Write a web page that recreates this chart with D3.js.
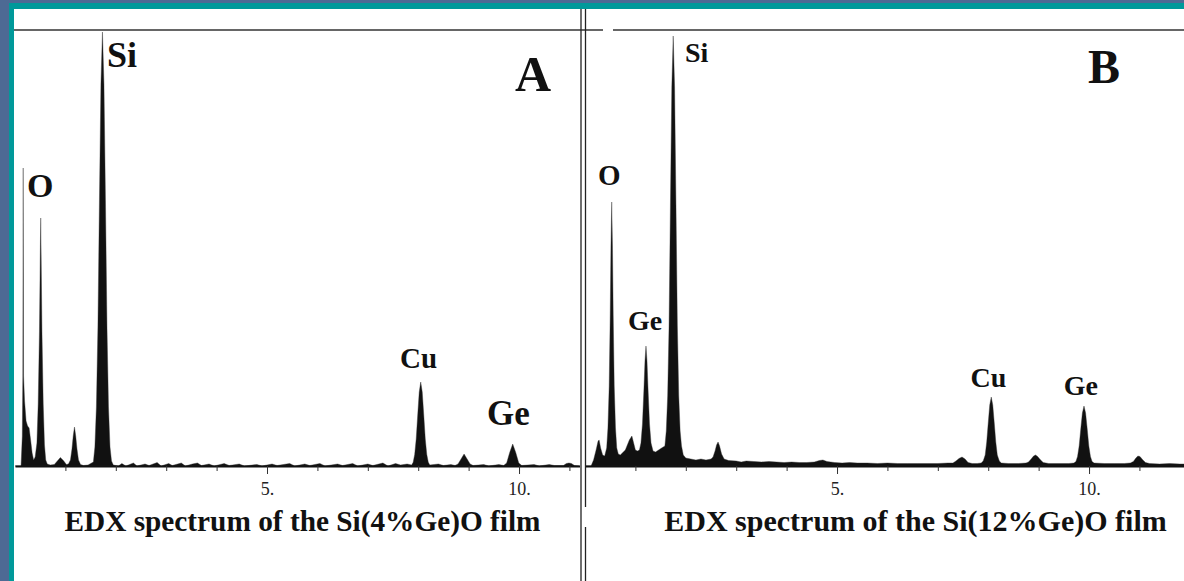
<!DOCTYPE html>
<html>
<head>
<meta charset="utf-8">
<script src="https://cdn.jsdelivr.net/npm/d3@7"></script>
<style>
  body { margin: 0; background: #4d6a94; }
  svg { display: block; }
</style>
</head>
<body>
<div id="chart"></div>
<script>
var width = 1184;
var height = 581;

// energy ticks (keV) and the ones carrying a label
var energyTicks = [1, 2, 3, 4, 5, 6, 7, 8, 9, 10, 11];
var labelTicks = [5, 10];

// spectrum A : Si(4%Ge)O, [energy keV, counts]
var spectrumA = [
  [0.00, 0], [0.12, 0], [0.145, 300], [0.155, 900], [0.163, 2980], [0.170, 900],
  [0.19, 650], [0.22, 450], [0.25, 400], [0.28, 380], [0.31, 260], [0.34, 130], [0.37, 60],
  [0.40, 90], [0.435, 230], [0.46, 620], [0.485, 1340], [0.50, 2050], [0.51, 2480],
  [0.52, 2050], [0.535, 1340], [0.56, 620], [0.585, 210], [0.61, 60], [0.64, 20],
  [0.70, 10], [0.78, 15], [0.84, 50], [0.90, 85], [0.96, 55], [1.02, 15],
  [1.06, 20], [1.10, 60], [1.13, 170], [1.155, 300], [1.18, 390], [1.205, 300],
  [1.23, 170], [1.26, 60], [1.30, 15], [1.36, 5], [1.45, 10],
  [1.555, 40], [1.585, 190], [1.615, 590], [1.645, 1390], [1.675, 2650], [1.705, 3820],
  [1.735, 4340], [1.765, 3820], [1.795, 2650], [1.825, 1390], [1.855, 590], [1.885, 190],
  [1.915, 50], [1.95, 10],
  [2.05, 0], [2.12, 25], [2.20, 0], [2.35, 30], [2.42, 0], [2.58, 20], [2.66, 5],
  [2.82, 35], [2.90, 0], [3.05, 25], [3.12, 5], [3.30, 30], [3.38, 0], [3.52, 20],
  [3.62, 30], [3.70, 5], [3.85, 20], [3.95, 0], [4.15, 25], [4.25, 5], [4.45, 20],
  [4.55, 0], [4.80, 15], [4.90, 0], [5.10, 20], [5.20, 5], [5.45, 25], [5.55, 0],
  [5.75, 20], [5.85, 5], [6.05, 25], [6.15, 0], [6.40, 20], [6.50, 5], [6.70, 25],
  [6.80, 0], [7.00, 20], [7.10, 5], [7.30, 30], [7.40, 0], [7.55, 25], [7.65, 10], [7.78, 20],
  [7.87, 10], [7.90, 37], [7.93, 115], [7.96, 270], [7.99, 510], [8.02, 740], [8.05, 840],
  [8.08, 740], [8.11, 510], [8.14, 270], [8.17, 115], [8.20, 37], [8.23, 10],
  [8.40, 20], [8.50, 5], [8.65, 15],
  [8.73, 5], [8.79, 20], [8.85, 70], [8.91, 120], [8.97, 70], [9.03, 20], [9.09, 5],
  [9.30, 15], [9.40, 0], [9.60, 15],
  [9.695, 5], [9.755, 30], [9.815, 135], [9.875, 220], [9.935, 135], [9.995, 30], [10.055, 5],
  [10.30, 15], [10.40, 0], [10.60, 15], [10.70, 5],
  [10.88, 5], [10.94, 25], [10.99, 30], [11.04, 25], [11.10, 5], [11.20, 0]
];

// spectrum B : Si(12%Ge)O, [energy keV, counts]
var spectrumB = [
  [0.00, 0], [0.12, 0], [0.17, 60], [0.22, 160], [0.26, 250], [0.28, 260], [0.31, 180],
  [0.35, 110], [0.39, 100],
  [0.43, 180], [0.455, 380], [0.48, 800], [0.50, 1500], [0.515, 2200], [0.53, 2640],
  [0.545, 2200], [0.56, 1500], [0.58, 800], [0.605, 380], [0.63, 180], [0.66, 120],
  [0.70, 110], [0.76, 140], [0.80, 160], [0.84, 210], [0.88, 260], [0.93, 300],
  [0.97, 220], [1.00, 160], [1.04, 150], [1.08, 160],
  [1.11, 230], [1.14, 420], [1.17, 780], [1.19, 1050], [1.21, 1200], [1.23, 1050],
  [1.25, 780], [1.28, 420], [1.31, 230], [1.35, 150], [1.40, 140], [1.46, 160], [1.52, 180],
  [1.585, 200], [1.6125, 350], [1.64, 700], [1.6675, 1400], [1.695, 2610], [1.7225, 3790],
  [1.75, 4300], [1.7775, 3790], [1.805, 2610], [1.8325, 1400], [1.86, 700], [1.8875, 350],
  [1.915, 200], [1.95, 110], [2.00, 80],
  [2.10, 70], [2.20, 60], [2.30, 70], [2.40, 60], [2.50, 70],
  [2.54, 90], [2.58, 150], [2.61, 210], [2.64, 240], [2.67, 200], [2.71, 120], [2.76, 70],
  [2.85, 55], [3.00, 50], [3.10, 40], [3.20, 50], [3.35, 45], [3.50, 40], [3.65, 45],
  [3.80, 40], [3.95, 35], [4.10, 40], [4.25, 35], [4.40, 35], [4.55, 40], [4.65, 55],
  [4.72, 60], [4.80, 45], [4.95, 35], [5.10, 30], [5.25, 35], [5.40, 30], [5.60, 30],
  [5.80, 25], [6.00, 30], [6.20, 25], [6.40, 25], [6.60, 25], [6.80, 25], [7.00, 25], [7.20, 30],
  [7.30, 30], [7.36, 50], [7.42, 75], [7.48, 90], [7.54, 70], [7.60, 35], [7.68, 25], [7.78, 25],
  [7.86, 30], [7.90, 50], [7.94, 110], [7.97, 240], [8.00, 430], [8.03, 610], [8.06, 690],
  [8.09, 610], [8.12, 430], [8.15, 240], [8.18, 110], [8.22, 50], [8.26, 30],
  [8.40, 25], [8.60, 25], [8.75, 30],
  [8.80, 40], [8.86, 75], [8.90, 100], [8.94, 110], [8.98, 95], [9.03, 65], [9.09, 35], [9.20, 25],
  [9.40, 25], [9.60, 25],
  [9.70, 30], [9.74, 45], [9.772, 95], [9.804, 200], [9.836, 370], [9.868, 530], [9.90, 600],
  [9.932, 530], [9.964, 370], [9.996, 200], [10.028, 95], [10.06, 45], [10.10, 30],
  [10.30, 25], [10.50, 25], [10.70, 25], [10.82, 30],
  [10.88, 45], [10.93, 80], [10.97, 100], [11.01, 95], [11.06, 65], [11.12, 35], [11.20, 25],
  [11.40, 20], [11.60, 25], [11.80, 20], [11.90, 20]
];

// element labels: [text, energy, counts, font size]
var labelsA = [
  ['Si', 1.825, 3990, 36], ['O', 0.238, 2690, 34], ['Cu', 7.64, 980, 29],
  ['Ge', 9.365, 410, 35], ['A', 9.92, 3750, 50]
];
var labelsB = [
  ['Si', 1.984, 4040, 28], ['O', 0.258, 2810, 29], ['Ge', 0.853, 1360, 28],
  ['Cu', 7.65, 790, 28], ['Ge', 9.50, 710, 28], ['B', 9.98, 3830, 48]
];

var captionA = 'EDX spectrum of the Si(4%Ge)O film';
var captionB = 'EDX spectrum of the Si(12%Ge)O film';

var serif = '"Liberation Serif", "Times New Roman", Times, serif';

var svg = d3.select('#chart').append('svg')
  .attr('width', width)
  .attr('height', height);

// frame: blue backdrop, teal border, white sheet
svg.append('rect').attr('width', width).attr('height', height).attr('fill', '#4d6a94');
svg.append('rect').attr('x', 9).attr('y', 3).attr('width', width - 9).attr('height', height - 3).attr('fill', '#00999a');
svg.append('rect').attr('x', 14).attr('y', 9).attr('width', width - 14).attr('height', height - 9).attr('fill', '#fff');

var y = d3.scaleLinear().domain([0, 4400]).range([466, 26]);

function panel(data, labels, caption, x0, domainMax, rangeMax, captionX, captionSize) {
  var x = d3.scaleLinear().domain([0, domainMax]).range([x0, rangeMax]);
  var g = svg.append('g');

  var area = d3.area()
    .x(d => x(d[0]))
    .y0(y(0))
    .y1(d => y(d[1]));

  g.append('path')
    .datum(data)
    .attr('fill', '#111')
    .attr('stroke', '#333')
    .attr('stroke-width', 0.4)
    .attr('d', area);

  // minor ticks
  var minor = g.append('g')
    .attr('transform', `translate(0,${y(0)})`)
    .call(d3.axisBottom(x).tickValues(energyTicks).tickSize(5).tickSizeOuter(0).tickFormat(''));
  minor.select('.domain').attr('stroke', '#111').attr('stroke-width', 1.8);
  minor.selectAll('.tick line').attr('stroke', '#333').attr('stroke-width', 1);

  // labelled ticks
  var major = g.append('g')
    .attr('transform', `translate(0,${y(0)})`)
    .call(d3.axisBottom(x).tickValues(labelTicks).tickSize(8).tickPadding(8).tickFormat(d => d + '.'));
  major.select('.domain').remove();
  major.selectAll('.tick line').attr('stroke', '#333').attr('stroke-width', 1);
  major.selectAll('.tick text')
    .style('font-family', serif)
    .style('font-size', '18px')
    .attr('fill', '#222');

  g.selectAll('text.lbl')
    .data(labels)
    .enter().append('text')
    .attr('class', 'lbl')
    .attr('x', d => x(d[1]))
    .attr('y', d => y(d[2]))
    .attr('font-family', serif)
    .attr('font-weight', 'bold')
    .attr('font-size', d => d[3])
    .attr('fill', '#111')
    .text(d => d[0]);

  g.append('text')
    .attr('x', captionX)
    .attr('y', 531)
    .attr('text-anchor', 'middle')
    .attr('font-family', serif)
    .attr('font-weight', 'bold')
    .attr('font-size', captionSize)
    .attr('fill', '#111')
    .text(caption);
}

panel(spectrumA, labelsA, captionA, 15, 11.2, 579.5, 302.5, 29.3);
panel(spectrumB, labelsB, captionB, 585, 11.9, 1184.8, 915.5, 30);

// top rule and panel divider
svg.append('line').attr('x1', 14).attr('x2', 603).attr('y1', 30).attr('y2', 30)
  .attr('stroke', '#333').attr('stroke-width', 1.5);
svg.append('line').attr('x1', 613).attr('x2', width).attr('y1', 30).attr('y2', 30)
  .attr('stroke', '#333').attr('stroke-width', 1.5);
svg.append('line').attr('x1', 581).attr('x2', 581).attr('y1', 9).attr('y2', height)
  .attr('stroke', '#222').attr('stroke-width', 1.3);
svg.append('line').attr('x1', 585.5).attr('x2', 585.5).attr('y1', 9).attr('y2', 507)
  .attr('stroke', '#222').attr('stroke-width', 1.3);
svg.append('line').attr('x1', 585.5).attr('x2', 585.5).attr('y1', 527).attr('y2', height)
  .attr('stroke', '#222').attr('stroke-width', 1.3);
</script>
</body>
</html>
